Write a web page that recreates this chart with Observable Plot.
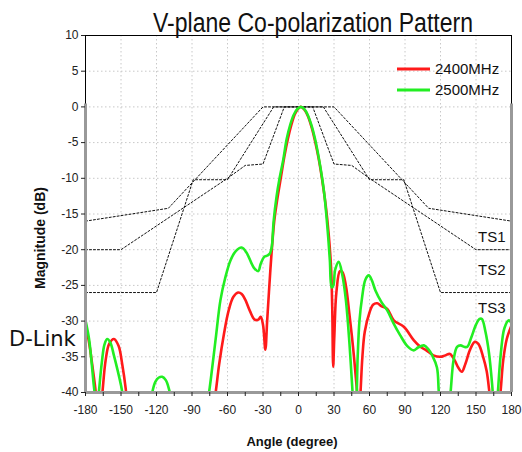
<!DOCTYPE html>
<html><head><meta charset="utf-8">
<script src="https://cdn.jsdelivr.net/npm/d3@7"></script>
<script src="https://cdn.jsdelivr.net/npm/@observablehq/plot@0.6"></script>
<style>body{margin:0;background:#fff;} #chart{width:522px;height:452px;}</style>
</head><body><div id="chart"></div>
<script>
// ---- data ----
const title = "V-plane Co-polarization Pattern";
const xLabel = "Angle (degree)";
const yLabel = "Magnitude (dB)";
const brand = "D-Link";
const seriesNames = ["2400MHz", "2500MHz"];
const seriesColors = ["#ff1a1a", "#22ee22"];
const xTicks = [-180, -150, -120, -90, -60, -30, 0, 30, 60, 90, 120, 150, 180];
const yTicks = [-40, -35, -30, -25, -20, -15, -10, -5, 0, 5, 10];

const redAngles = [-180,-177,-174,-171,-169,-166,-163,-160,-156,-152,-149,-146,-144,-130,-100,-75,-70,-67,-63,-59,-55,-51,-48,-45,-41,-37,-34,-32,-30,-28,-26.5,-25,-23,-20.5,-18,-15,-12,-9,-6,-3,0,2,5,8,11,14,17,20,23,25.5,27.5,28.5,29.3,30.3,32,35,37,40,43,46,48.5,50,51,52.4,54,56,60,63,66.5,70,75,80.5,89,97.5,103,108,114,120,124,128,132,135,138,141,145,149,152,156,159,161,163,166,168,170.7,173,176,180];
const redDb = [-30.5,-33,-36.5,-40.5,-45,-40.5,-35.5,-33.2,-32.5,-33.5,-36,-39.5,-43,-50,-50,-46,-40,-36,-31.8,-28.5,-26.6,-26,-26.2,-27,-28.6,-29.8,-29.8,-29.4,-30.5,-34,-30,-26,-21,-16,-13,-10,-7,-4.5,-2.5,-1,-0.2,0,-0.4,-1.3,-2.8,-4.8,-7.2,-10.2,-13.8,-17.8,-22.5,-28,-36.4,-32,-26,-23,-23.1,-25,-29,-33.5,-38,-41,-44,-40,-35,-31.5,-28.8,-27.7,-27.5,-27.9,-28.3,-29.9,-30.8,-32.7,-33.6,-34.1,-34.8,-35,-34.8,-34.6,-35.5,-36.5,-37.1,-36,-34,-32.9,-33.2,-35,-37,-39.5,-43,-46,-44,-40,-35.5,-32.5,-30.6];

const greenAngles = [-180,-177,-175,-173,-171.5,-170,-168.7,-166,-164,-161.7,-159,-156,-153,-150,-148,-146,-135,-126,-123.6,-121,-118,-115.2,-112,-110,-108,-105,-95,-80,-76,-74,-70,-66,-62,-57.5,-53,-48,-44,-40,-37.8,-34,-32,-29,-26,-24,-22.5,-21,-18.5,-16,-13,-10,-7,-4,-1,2,5,8,11,14,17,20,22,24.5,26.5,28,29.5,31,34,37,40,43,45.4,47,48.5,50,51.5,53.8,56.5,59.4,62,65,70,75,80,86,92,97.5,101,106,110,113,117,118.6,121,126,128.5,131,134,137,140,142.6,146,150,153,155,158,161,163.7,165.5,167,168.5,171,174,177.7,180];
const greenDb = [-29.9,-32.5,-35.5,-39,-41,-43,-40,-35.5,-33.3,-32.5,-33,-34.8,-36.8,-39,-41,-44,-50,-43,-40,-38.5,-37.9,-37.8,-38.3,-39.2,-40.5,-43,-50,-45,-40.5,-38,-32.5,-27.1,-24,-21.5,-20.2,-19.7,-20.4,-21.8,-22.5,-23,-22,-21,-20.8,-20.5,-19.5,-16,-12.5,-10,-7.5,-4.5,-2.5,-1.1,-0.3,0,-0.3,-1.2,-2.6,-4.5,-7,-10,-12.5,-17,-21.5,-25.3,-25,-22.8,-21.7,-23.5,-27,-33,-39.2,-43,-42,-35,-30,-26.6,-24.2,-23.6,-24.3,-25.7,-27.3,-28.5,-30.2,-32,-33.5,-34.1,-33.7,-33.4,-34,-34.8,-36.5,-40,-44,-44,-40,-35.5,-33.6,-33.4,-33.6,-33.6,-32.3,-30.5,-29.7,-29.7,-31.5,-34.5,-39,-43,-44,-40,-34.5,-31,-29.9,-30.3];

const ts1Angles = [-180,-110,-30,30,110,180];
const ts1Db = [-16,-14.2,0,0,-14.2,-16];
const ts2Angles = [-180,-150,-60,-45,-30,-12,12,30,45,60,150,180];
const ts2Db = [-20,-20,-10,-8.2,-8,0,0,-8,-8.2,-10,-20,-20];
const ts3Angles = [-180,-120,-89,-60,-21,21,60,89,120,180];
const ts3Db = [-26,-26,-10.2,-10.2,0,0,-10.2,-10.2,-26,-26];
const tsNames = ["TS1", "TS2", "TS3"];
const tsLabelDb = [-18.2, -22.8, -28.2];

// ---- tables ----
const zip = (a, b, name) => a.map((x, i) => ({a: x, v: b[i], s: name}));
const red = zip(redAngles, redDb, seriesNames[0]);
const green = zip(greenAngles, greenDb, seriesNames[1]);
const ts = [zip(ts1Angles, ts1Db, "TS1"), zip(ts2Angles, ts2Db, "TS2"), zip(ts3Angles, ts3Db, "TS3")];
const tsLabels = tsNames.map((n, i) => ({label: n, y: tsLabelDb[i]}));
const minorX = d3.range(-180, 181, 15);

const font = "'Liberation Sans', Arial, sans-serif";
const plot = Plot.plot({
  width: 522, height: 452,
  marginTop: 35, marginBottom: 60, marginLeft: 85, marginRight: 11,
  style: {fontFamily: font, fontSize: "12px", color: "#222", background: "#fff", overflow: "visible"},
  x: {domain: [-180, 180]},
  y: {domain: [-40, 10]},
  marks: [
    Plot.gridX(xTicks, {stroke: "#c8c8c8", strokeOpacity: 1, strokeDasharray: "1.5,2.5"}),
    Plot.gridY(yTicks, {stroke: "#c8c8c8", strokeOpacity: 1, strokeDasharray: "1.5,2.5"}),
    ...ts.map(d => Plot.line(d, {x: "a", y: "v", stroke: "#111", strokeWidth: 1, strokeDasharray: "2,2"})),
    Plot.line(red, {x: "a", y: "v", stroke: seriesColors[0], strokeWidth: 2.6, curve: "catmull-rom", clip: true}),
    Plot.line(green, {x: "a", y: "v", stroke: seriesColors[1], strokeWidth: 2.6, curve: "catmull-rom", clip: true}),
    Plot.frame({stroke: "#000", strokeWidth: 1}),
    Plot.ruleX([-180, 180], {y1: -40, y2: 0.4, stroke: "#999", strokeWidth: 3}),
    Plot.ruleY([-40], {stroke: "#999", strokeWidth: 3}),
    Plot.axisX(minorX, {tickFormat: d => d % 30 === 0 ? String(d) : "", tickSize: 4, tickPadding: 9, label: null, fontSize: 12}),
    Plot.axisY(yTicks, {tickFormat: d => String(d), tickSize: 4, tickPadding: 3, label: null, fontSize: 12}),
    Plot.text(tsLabels, {x: 180, y: "y", text: "label", dx: -6, textAnchor: "end", fontSize: 15, fill: "#111"})
  ]
});
document.getElementById("chart").appendChild(plot);

// ---- decorations ----
const svg = d3.select(plot);
svg.append("text").attr("x", 153).attr("y", 32).attr("text-anchor", "start").attr("font-family", font).attr("font-size", 27)
  .attr("textLength", 320).attr("lengthAdjust", "spacingAndGlyphs").attr("fill", "#111").text(title);
svg.append("text").attr("x", 292).attr("y", 446).attr("text-anchor", "middle").attr("font-family", font)
  .attr("font-size", 13).attr("font-weight", "bold").attr("fill", "#111").text(xLabel);
svg.append("text").attr("transform", "translate(45,238) rotate(-90)").attr("text-anchor", "middle").attr("font-family", font)
  .attr("font-size", 14).attr("font-weight", "bold").attr("fill", "#111").text(yLabel);
svg.append("text").attr("x", 9).attr("y", 346).attr("text-anchor", "start").attr("font-family", "'DejaVu Sans', sans-serif").attr("font-size", 21)
  .attr("fill", "#111").text(brand);
seriesNames.forEach((n, i) => {
  const yy = 69 + i * 21;
  svg.append("line").attr("x1", 397).attr("x2", 430).attr("y1", yy).attr("y2", yy)
    .attr("stroke", seriesColors[i]).attr("stroke-width", 3);
  svg.append("text").attr("x", 435).attr("y", yy + 5).attr("text-anchor", "start").attr("font-family", font).attr("font-size", 15)
    .attr("fill", "#111").text(n);
});
</script>
</body></html>
